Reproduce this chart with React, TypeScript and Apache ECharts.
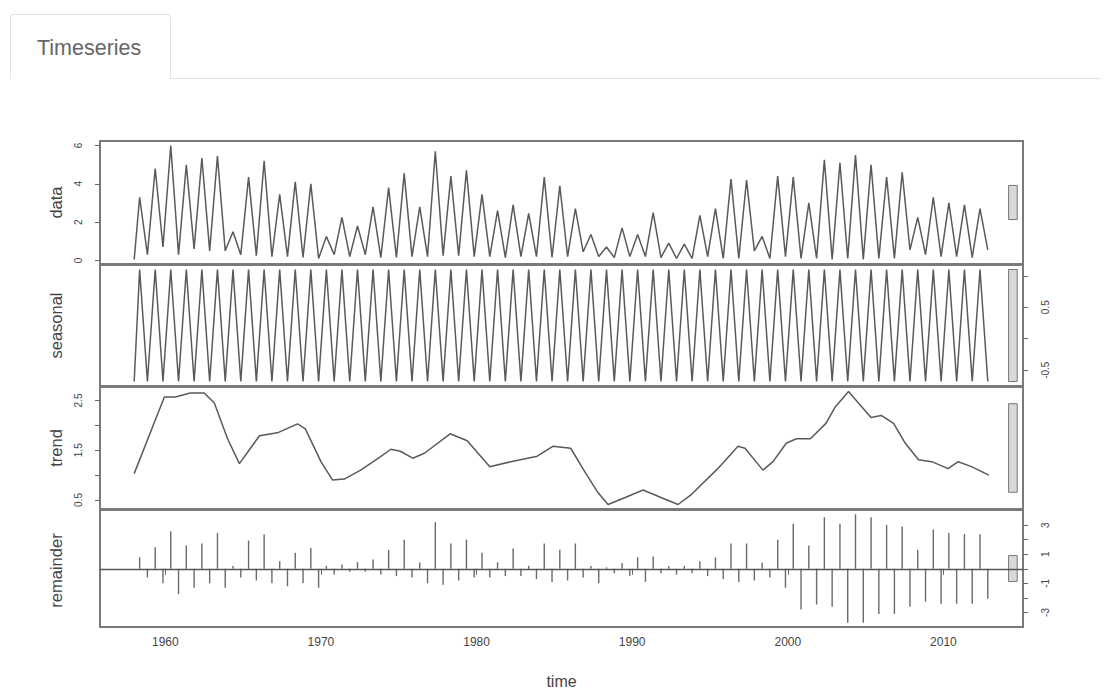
import React, { useEffect, useRef } from "react";
import * as echarts from "echarts";

// ---- data (STL decomposition, yearly cycle) ----
const startYear = 1958;
const peakOffset = 0.35; // position of the yearly high within the year
const troughOffset = 0.85; // position of the yearly low within the year

const dataStart = 0.05;
const dataPeaks = [
  3.3, 4.8, 6.0, 5.0, 5.35, 5.45, 1.5, 4.35, 5.2, 3.45,
  4.1, 4.0, 1.25, 2.25, 1.8, 2.8, 3.8, 4.55, 2.8, 5.7,
  4.4, 4.7, 3.45, 2.6, 2.9, 2.45, 4.35, 3.9, 2.7, 1.35,
  0.7, 1.7, 1.35, 2.5, 0.9, 0.85, 2.35, 2.7, 4.25, 4.2,
  1.25, 4.4, 4.35, 3.0, 5.25, 5.1, 5.5, 5.0, 4.35, 4.6,
  2.25, 3.3, 3.0, 2.9, 2.7,
];
const dataTroughs = [
  0.3, 0.7, 0.3, 0.6, 0.5, 0.5, 0.3, 0.25, 0.2, 0.2,
  0.15, 0.1, 0.3, 0.2, 0.3, 0.15, 0.15, 0.2, 0.2, 0.25,
  0.25, 0.2, 0.2, 0.15, 0.2, 0.2, 0.15, 0.2, 0.45, 0.2,
  0.15, 0.2, 0.2, 0.15, 0.1, 0.1, 0.2, 0.1, 0.1, 0.5,
  0.1, 0.2, 0.1, 0.1, 0.05, 0.1, 0.05, 0.1, 0.1, 0.55,
  0.3, 0.2, 0.2, 0.15, 0.55,
];

const seasonalPeak = 1.1;
const seasonalTrough = -0.68;

const trendTimes = [
  1958.0, 1959.94, 1960.64, 1961.6, 1962.5, 1963.15, 1964.0, 1964.76, 1966.05, 1967.2,
  1968.5, 1969.0, 1970.0, 1970.75, 1971.5, 1972.55, 1973.65, 1974.5, 1975.1, 1975.9,
  1976.65, 1978.3, 1979.4, 1980.85, 1982.2, 1983.9, 1984.9, 1986.05, 1986.95, 1987.8,
  1988.45, 1989.55, 1990.7, 1991.85, 1992.95, 1993.8, 1995.5, 1996.8, 1997.25, 1998.4,
  1999.05, 1999.9, 2000.55, 2001.45, 2002.45, 2003.05, 2003.9, 2004.65, 2005.35, 2006.0,
  2006.8, 2007.55, 2008.4, 2009.25, 2010.3, 2010.95, 2011.8, 2012.92,
];
const trendValues = [
  1.03, 2.57, 2.57, 2.65, 2.65, 2.45, 1.73, 1.23, 1.79, 1.85,
  2.03, 1.93, 1.27, 0.9, 0.92, 1.1, 1.33, 1.52, 1.48, 1.34,
  1.44, 1.83, 1.69, 1.17, 1.27, 1.38, 1.58, 1.54, 1.07, 0.65,
  0.41, 0.55, 0.7, 0.55, 0.41, 0.61, 1.13, 1.58, 1.54, 1.1,
  1.27, 1.64, 1.73, 1.73, 2.04, 2.37, 2.68, 2.41, 2.16, 2.2,
  2.04, 1.64, 1.31, 1.27, 1.13, 1.27, 1.17, 1.0,
];

const remainderHigh = [
  0.78, 1.48, 2.58, 1.6, 1.74, 2.46, 0.2, 1.94, 2.38, 0.52,
  1.1, 1.42, 0.2, 0.3, 0.46, 0.64, 1.3, 2.0, 0.44, 3.2,
  1.74, 2.0, 1.1, 0.44, 1.4, 0.2, 1.74, 1.3, 1.74, 0.2,
  0.1, 0.4, 0.8, 0.84, 0.2, 0.2, 0.52, 0.78, 1.74, 1.74,
  0.44, 2.0, 3.1, 1.6, 3.54, 3.1, 3.74, 3.54, 3.0, 2.9,
  1.3, 2.7, 2.46, 2.38, 2.38,
];
const remainderLow = [
  -0.6, -1.0, -1.74, -1.3, -1.0, -1.3, -0.6, -0.8, -1.0, -1.2,
  -1.0, -1.3, -0.4, -0.2, -0.2, -0.4, -0.5, -0.6, -1.0, -1.1,
  -0.8, -0.6, -0.6, -0.5, -0.5, -0.7, -0.9, -0.8, -0.6, -1.0,
  -0.3, -0.5, -0.9, -0.3, -0.4, -0.3, -0.5, -0.7, -0.9, -0.8,
  -0.6, -1.3, -2.8, -2.45, -2.6, -3.7, -3.7, -3.1, -3.1, -2.6,
  -2.26, -2.4, -2.4, -2.4, -2.06,
];

const xTicks = [1960, 1970, 1980, 1990, 2000, 2010];
const panelNames = ["data", "seasonal", "trend", "remainder"];
const dataTicks = [0, 2, 4, 6];
const seasonalTicks = [-0.5, 0, 0.5, 1];
const seasonalLabels = [-0.5, 0.5];
const trendTicks = [0.5, 1, 1.5, 2, 2.5];
const trendLabels = [0.5, 1.5, 2.5];
const remainderTicks = [-3, -2, -1, 0, 1, 2, 3];
const remainderLabels = [-3, -1, 1, 3];

const FONT = "Liberation Sans, Arial, sans-serif";

export default function App() {
  const ref = useRef<HTMLDivElement>(null);

  useEffect(() => {
    if (!ref.current) return;
    const chart = echarts.init(ref.current, null, { renderer: "svg" });

    const n = dataPeaks.length;
    const dataSeries: number[][] = [[startYear, dataStart]];
    const seasonalSeries: number[][] = [[startYear, seasonalTrough]];
    const remSeries: number[][] = [];
    for (let i = 0; i < n; i++) {
      const y = startYear + i;
      dataSeries.push([y + peakOffset, dataPeaks[i]]);
      dataSeries.push([y + troughOffset, dataTroughs[i]]);
      seasonalSeries.push([y + peakOffset, seasonalPeak]);
      seasonalSeries.push([y + troughOffset, seasonalTrough]);
      remSeries.push([y + peakOffset, remainderHigh[i]]);
      remSeries.push([y + troughOffset, remainderLow[i]]);
    }
    const trendSeries = trendTimes.map((t, i) => [t, trendValues[i]]);

    const tFirst = startYear;
    const tLast = startYear + n - 1 + 11 / 12;
    const pad = (tLast - tFirst) * 0.04;
    const xMin = tFirst - pad;
    const xMax = tLast + pad;

    const rng = (a: number[]) => [Math.min(...a), Math.max(...a)];
    const ranges = [
      rng(dataSeries.map((d) => d[1])),
      [seasonalTrough, seasonalPeak],
      rng(trendValues),
      rng(remSeries.map((d) => d[1])),
    ];
    const mx = Math.min(...ranges.map((r) => r[1] - r[0]));
    const dx = (xMax - xMin) / 64;
    const rangeBar = (k: number) => {
      const c = (ranges[k][0] + ranges[k][1]) / 2;
      return {
        silent: true,
        itemStyle: { color: "#d9d9d9", borderColor: "#777", borderWidth: 1 },
        data: [[{ coord: [xMax - dx, c + mx / 2] }, { coord: [xMax - 0.4 * dx, c - mx / 2] }]],
      };
    };
    const yLim = (k: number) => {
      const r = ranges[k];
      const p = (r[1] - r[0]) * 0.04;
      return [r[0] - p, r[1] + p];
    };

    const gridTops = [141, 265, 387, 510];
    const gridHeights = [123, 121, 122, 121];
    const lineColor = "#5a5a5a";
    const tickFont = { fontSize: 10, color: "#444", fontFamily: FONT };

    const yAxisDef = (k: number, ticks: number[], labels: number[], pos: string, dec: number) => {
      const [lo, hi] = yLim(k);
      return {
        type: "value",
        gridIndex: k,
        position: pos,
        min: lo,
        max: hi,
        splitLine: { show: false },
        axisLine: { show: false },
        axisTick: { show: true, length: 5, customValues: ticks, lineStyle: { color: "#666" } },
        axisLabel: {
          show: true,
          customValues: labels,
          rotate: 90,
          margin: 17,
          formatter: (v: number) => v.toFixed(dec),
          ...tickFont,
        },
      };
    };

    const option: any = {
      animation: false,
      backgroundColor: "transparent",
      grid: gridTops.map((t, i) => ({
        left: 100,
        right: 88,
        top: t,
        height: gridHeights[i],
        show: true,
        borderColor: "#7a7a7a",
        borderWidth: 2,
        backgroundColor: "transparent",
      })),
      xAxis: gridTops.map((_, i) => ({
        type: "value",
        gridIndex: i,
        min: xMin,
        max: xMax,
        splitLine: { show: false },
        axisLine: { show: false },
        axisTick: { show: i === 3, length: 6, customValues: xTicks, lineStyle: { color: "#666" } },
        axisLabel: {
          show: i === 3,
          customValues: xTicks,
          margin: 9,
          formatter: (v: number) => String(v),
          ...tickFont,
          fontSize: 12,
        },
        name: i === 3 ? "time" : "",
        nameLocation: "middle",
        nameGap: 46,
        nameTextStyle: { fontSize: 16, color: "#444", fontFamily: FONT },
      })),
      yAxis: [
        yAxisDef(0, dataTicks, dataTicks, "left", 0),
        yAxisDef(1, seasonalTicks, seasonalLabels, "right", 1),
        yAxisDef(2, trendTicks, trendLabels, "left", 1),
        yAxisDef(3, remainderTicks, remainderLabels, "right", 0),
      ],
      series: [
        {
          type: "line",
          xAxisIndex: 0,
          yAxisIndex: 0,
          data: dataSeries,
          symbol: "none",
          lineStyle: { color: lineColor, width: 1.5 },
          markArea: rangeBar(0),
        },
        {
          type: "line",
          xAxisIndex: 1,
          yAxisIndex: 1,
          data: seasonalSeries,
          symbol: "none",
          lineStyle: { color: lineColor, width: 1.5 },
          markArea: rangeBar(1),
        },
        {
          type: "line",
          xAxisIndex: 2,
          yAxisIndex: 2,
          data: trendSeries,
          symbol: "none",
          lineStyle: { color: lineColor, width: 1.5 },
          markArea: rangeBar(2),
        },
        {
          type: "bar",
          xAxisIndex: 3,
          yAxisIndex: 3,
          data: remSeries,
          barWidth: 1.4,
          itemStyle: { color: "#6a6a6a" },
          markArea: rangeBar(3),
          markLine: {
            silent: true,
            symbol: "none",
            label: { show: false },
            lineStyle: { color: "#555", width: 1.4, type: "solid" },
            data: [{ yAxis: 0 }],
          },
        },
      ],
      graphic: panelNames.map((name, i) => ({
        type: "text",
        x: 56,
        y: gridTops[i] + gridHeights[i] / 2,
        rotation: Math.PI / 2,
        style: {
          text: name,
          fontSize: 16.5,
          fill: "#444",
          fontFamily: FONT,
          textAlign: "center",
          textVerticalAlign: "middle",
        },
      })),
    };

    chart.setOption(option);
    return () => chart.dispose();
  }, []);

  return (
    <div
      style={{
        position: "absolute",
        left: 0,
        top: 0,
        width: 1111,
        height: 690,
        background: "#fff",
        fontFamily: FONT,
      }}
    >
      <div
        style={{
          position: "absolute",
          left: 10,
          top: 14,
          width: 161,
          height: 65,
          border: "1px solid #e2e2e2",
          borderBottom: "none",
          borderRadius: "4px 4px 0 0",
          boxSizing: "border-box",
        }}
      >
        <span
          style={{
            position: "absolute",
            left: 26,
            top: 21,
            fontSize: 21.5,
            color: "#666",
          }}
        >
          Timeseries
        </span>
      </div>
      <div
        style={{
          position: "absolute",
          left: 171,
          top: 78,
          width: 930,
          height: 0,
          borderTop: "1px solid #e2e2e2",
        }}
      />
      <div ref={ref} style={{ position: "absolute", left: 0, top: 0, width: 1111, height: 690 }} />
    </div>
  );
}
